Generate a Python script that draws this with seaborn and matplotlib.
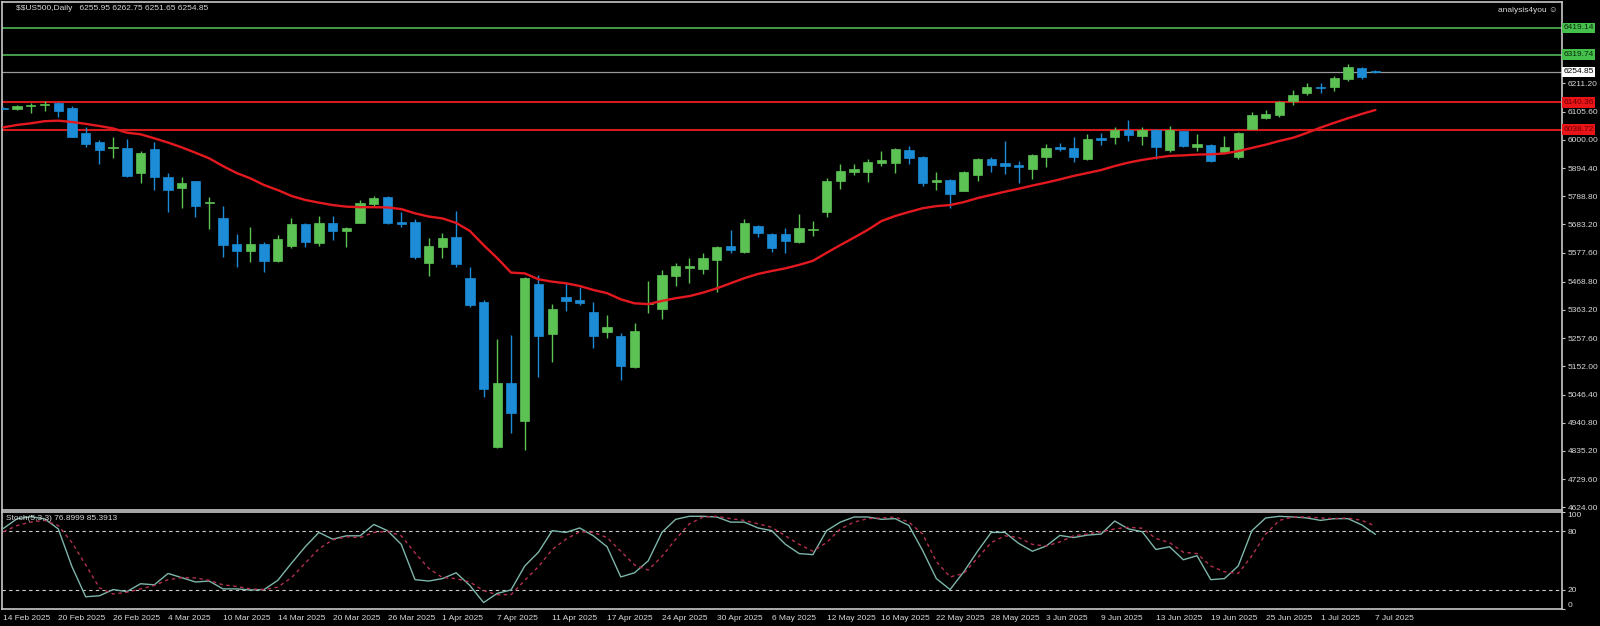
# US500 daily candles with MA and stochastic panel

import numpy as np
import pandas as pd
import matplotlib
matplotlib.use("Agg")
import matplotlib.pyplot as plt
import matplotlib.transforms as mtransforms
import seaborn as sns

# 1. Data, bar index 0 = 14 Feb 2025 ... 100 = 7 Jul 2025
opens = [
    6121, 6114, 6126, 6131, 6139, 6118, 6025, 5992, 5968, 5968,
    5875, 5965, 5860, 5821, 5845, 5764, 5707, 5610, 5585, 5609,
    5546, 5603, 5684, 5615, 5690, 5660, 5690, 5759, 5785, 5694,
    5691, 5540, 5598, 5635, 5484, 5394, 4851, 5091, 4947, 5460,
    5273, 5410, 5400, 5354, 5280, 5267, 5148, 5385, 5366, 5491,
    5520, 5516, 5550, 5603, 5581, 5677, 5647, 5647, 5616, 5664,
    5729, 5847, 5881, 5881, 5912, 5915, 5962, 5937, 5842, 5850,
    5810, 5868, 5927, 5912, 5906, 5892, 5935, 5973, 5969, 5927,
    6006, 6010, 6037, 6014, 6037, 5962, 6033, 5972, 5981, 5954,
    5935, 6042, 6083, 6093, 6146, 6174, 6199, 6197, 6227, 6268,
    6255.95]
highs = [
    6124, 6129, 6137, 6145, 6142, 6127, 6049, 6000, 6010, 6004,
    5958, 5993, 5875, 5860, 5846, 5785, 5752, 5648, 5673, 5619,
    5644, 5706, 5688, 5716, 5715, 5673, 5775, 5790, 5790, 5731,
    5703, 5631, 5650, 5735, 5525, 5400, 5253, 5269, 5488, 5494,
    5385, 5465, 5448, 5394, 5344, 5276, 5313, 5471, 5513, 5538,
    5556, 5575, 5603, 5663, 5703, 5680, 5652, 5669, 5722, 5696,
    5856, 5910, 5909, 5927, 5960, 5969, 5977, 5940, 5881, 5855,
    5882, 5931, 5937, 5997, 5922, 5946, 5984, 5990, 6010, 6021,
    6025, 6047, 6075, 6047, 6040, 6052, 6035, 6021, 5984, 6016,
    6031, 6104, 6111, 6147, 6187, 6214, 6214, 6239, 6283, 6274,
    6262.75]
lows = [
    6114, 6111, 6100, 6109, 6085, 6010, 5974, 5910, 5931, 5860,
    5837, 5812, 5731, 5744, 5710, 5665, 5563, 5525, 5544, 5506,
    5544, 5594, 5598, 5604, 5625, 5600, 5688, 5752, 5685, 5673,
    5555, 5490, 5557, 5525, 5375, 5038, 4845, 4903, 4838, 5111,
    5169, 5359, 5382, 5219, 5257, 5101, 5145, 5350, 5328, 5454,
    5465, 5497, 5431, 5578, 5578, 5635, 5581, 5575, 5612, 5640,
    5713, 5815, 5869, 5843, 5902, 5875, 5909, 5828, 5812, 5744,
    5808, 5847, 5881, 5872, 5840, 5852, 5900, 5960, 5918, 5925,
    5981, 5985, 5997, 5981, 5927, 5956, 5975, 5960, 5918, 5952,
    5927, 6040, 6078, 6087, 6131, 6169, 6177, 6184, 6222, 6227,
    6251.65]
closes = [
    6117, 6126, 6129, 6135, 6109, 6012, 5985, 5962, 5972, 5865,
    5952, 5862, 5812, 5838, 5752, 5768, 5608, 5585, 5609, 5546,
    5628, 5684, 5616, 5690, 5659, 5669, 5763, 5783, 5690, 5685,
    5560, 5603, 5634, 5535, 5381, 5066, 5091, 4976, 5482, 5265,
    5365, 5396, 5390, 5267, 5298, 5153, 5285, 5390, 5494, 5528,
    5526, 5559, 5600, 5588, 5688, 5650, 5594, 5622, 5671, 5668,
    5847, 5883, 5890, 5918, 5925, 5965, 5933, 5837, 5850, 5796,
    5880, 5927, 5905, 5903, 5900, 5942, 5969, 5967, 5935, 6003,
    6000, 6037, 6018, 6037, 5975, 6037, 5978, 5984, 5922, 5975,
    6027, 6092, 6096, 6141, 6168, 6198, 6196, 6231, 6274, 6237,
    6254.85]
ma_values = [
    6047, 6056, 6062, 6070, 6072, 6067, 6060, 6052, 6043, 6027,
    6021, 6006, 5990, 5972, 5952, 5931, 5902, 5876, 5856, 5831,
    5812, 5790, 5775, 5765, 5756, 5750, 5748, 5748, 5747, 5741,
    5725, 5713, 5706, 5689, 5659, 5606, 5557, 5503, 5500, 5478,
    5469, 5463, 5453, 5438, 5426, 5403, 5388, 5385, 5397, 5407,
    5415, 5428, 5444, 5463, 5482, 5498, 5509, 5519, 5532, 5547,
    5577, 5606, 5634, 5663, 5696, 5715, 5730, 5744, 5752, 5756,
    5767, 5782, 5794, 5806, 5817, 5829, 5840, 5852, 5865, 5876,
    5887, 5902, 5915, 5925, 5933, 5940, 5942, 5945, 5946, 5949,
    5958, 5970, 5982, 5996, 6008, 6026, 6046, 6064, 6081, 6097,
    6112]
stoch_k = [
    83, 93, 95, 93, 82.5, 43.6, 12.6, 13.6, 20, 17.9,
    26, 24.9, 36.6, 32.3, 27.8, 28.8, 20.7, 20.7, 19.6, 20,
    29.5, 47.2, 64.1, 78.9, 71.9, 75.4, 75.4, 87.1, 80.7, 66.6,
    30.2, 28.8, 31.3, 37.3, 24.2, 6.6, 16.1, 19.6, 44.3, 58.5,
    80.7, 78.9, 83.5, 75.4, 64.1, 33, 37.3, 49.6, 78.9, 92.4,
    95.5, 95.5, 94.8, 89.5, 89.5, 83.5, 80.7, 66.6, 57.1, 56,
    80.7, 89.5, 94.8, 94.8, 92.4, 93.1, 86, 60.2, 31.3, 20,
    38.3, 59.5, 78.9, 78.9, 67.6, 59.5, 64.8, 75.8, 73.6, 76.1,
    77.2, 90.6, 82.5, 79.6, 61.3, 64.1, 50.7, 54.9, 30.2, 31.3,
    44.3, 80.7, 93.8, 95.5, 94.8, 93.8, 91.3, 93.1, 93.1, 86.7,
    76.9]
stoch_d = [
    79.6, 86, 89.5, 91.3, 86, 68.4, 45.4, 21.8, 15.4, 17.2,
    20.7, 24.2, 30.2, 32.3, 32, 29.5, 24.9, 23.2, 20.7, 20,
    22.5, 32.3, 47.2, 62, 71.2, 74.4, 73.6, 78.9, 80, 75.4,
    57.8, 41.9, 32.3, 31.3, 27.8, 18.9, 14.7, 14.7, 29.5, 43.6,
    61.3, 71.9, 79.6, 78.9, 73.6, 59.5, 45.4, 40.1, 54.2, 71.9,
    87.8, 94.8, 95.5, 93.1, 91.3, 87.8, 84.2, 75.4, 66.6, 59.5,
    68.4, 82.5, 89.5, 93.1, 93.8, 94.8, 89.5, 77.2, 48.9, 33,
    36.6, 52.5, 68.4, 75.4, 73.6, 66.6, 64.8, 69.1, 75.4, 77.2,
    79.6, 82.5, 84.2, 83.2, 72.6, 68.4, 58.5, 57.1, 44.3, 38.3,
    36.6, 54.9, 77.2, 91.3, 94.8, 94.8, 93.8, 93.1, 93.8, 91.3,
    85.4]
date_labels = [
    "14 Feb 2025", "20 Feb 2025", "26 Feb 2025", "4 Mar 2025", "10 Mar 2025",
    "14 Mar 2025", "20 Mar 2025", "26 Mar 2025", "1 Apr 2025", "7 Apr 2025",
    "11 Apr 2025", "17 Apr 2025", "24 Apr 2025", "30 Apr 2025", "6 May 2025",
    "12 May 2025", "16 May 2025", "22 May 2025", "28 May 2025", "3 Jun 2025",
    "9 Jun 2025", "13 Jun 2025", "19 Jun 2025", "25 Jun 2025", "1 Jul 2025",
    "7 Jul 2025"]
price_ticks = [6211.20, 6105.60, 6000.00, 5894.40, 5788.80, 5683.20, 5577.60,
               5468.80, 5363.20, 5257.60, 5152.00, 5046.40, 4940.80, 4835.20,
               4729.60, 4624.00]
green_levels = [6419.14, 6319.74]
red_levels = [6140.36, 6038.72]
last_price = 6254.85

df = pd.DataFrame({"bar": np.arange(len(closes)), "open": opens, "high": highs,
                   "low": lows, "close": closes, "ma": ma_values,
                   "k": stoch_k, "d": stoch_d})

# 2. Style
sns.set_style("dark")
plt.rcParams['font.family'] = ['Liberation Sans', 'DejaVu Sans']
fg = '#d8d8d8'
bull = '#5cc253'
bear = '#1c8cd6'

fig = plt.figure(figsize=(16, 6.26), dpi=100, facecolor='black')
ax = fig.add_axes([0.00125, 0.1861, 0.975, 0.8107])
ax2 = fig.add_axes([0.00125, 0.0272, 0.975, 0.155], sharex=ax)
for a in (ax, ax2):
    a.set_facecolor('black')
    a.grid(False)
    for s in a.spines.values():
        s.set_color('#c8c8c8')
        s.set_linewidth(1.2)

# 3. Candles
up = df["close"] >= df["open"]
colors = np.where(up, bull, bear)
ax.vlines(df["bar"], df["low"], df["high"], colors=colors, lw=1.0, zorder=3)
body = (df["close"] - df["open"]).abs().clip(lower=1.5)
ax.bar(df["bar"], body, bottom=df[["open", "close"]].min(axis=1), width=0.68,
       color=colors, edgecolor=colors, lw=0.5, zorder=4)

# moving average
sns.lineplot(data=df, x="bar", y="ma", ax=ax, color='#e3191f', lw=1.7, zorder=5)

# level lines
trans = mtransforms.blended_transform_factory(ax.transAxes, ax.transData)
for lv in green_levels:
    ax.axhline(lv, color='#4aa84e', lw=1.3, zorder=2)
    ax.text(1.0008, lv, f"{lv:.2f}", transform=trans, ha='left', va='center',
            fontsize=6, color='#0b2a0b', clip_on=False,
            bbox=dict(boxstyle='square,pad=0.2', fc='#45c04c', ec='none'))
for lv in red_levels:
    ax.axhline(lv, color='#d41a1a', lw=1.5, zorder=2)
    ax.text(1.0008, lv, f"{lv:.2f}", transform=trans, ha='left', va='center',
            fontsize=6, color='#6a0000', clip_on=False,
            bbox=dict(boxstyle='square,pad=0.2', fc='#e81418', ec='none'))
ax.axhline(last_price, color='#9a9a9a', lw=0.9, zorder=2)
ax.text(1.0008, last_price, f"{last_price:.2f}", transform=trans, ha='left',
        va='center', fontsize=6, color='black', clip_on=False,
        bbox=dict(boxstyle='square,pad=0.2', fc='white', ec='none'))

ax.set_ylim(4615.8, 6516.4)
ax.set_xlim(-0.1, 113.6)
ax.yaxis.tick_right()
ax.set_yticks(price_ticks)
ax.set_yticklabels([f"{p:.2f}" for p in price_ticks])
ax.tick_params(axis='y', colors='#c8c8c8', labelcolor=fg, labelsize=6,
               length=2.5, width=0.8, pad=1.5)
ax.tick_params(axis='x', bottom=False, labelbottom=False)
ax.set_xlabel("")
ax.set_ylabel("")

# 4. Stochastic
for lv in (80, 20):
    ax2.axhline(lv, color='#cfcfcf', lw=0.8, ls=(0, (3, 3)))
sns.lineplot(data=df, x="bar", y="k", ax=ax2, color='#7db5aa', lw=1.0)
sns.lineplot(data=df, x="bar", y="d", ax=ax2, color='#b3304e', lw=1.0,
             linestyle=(0, (2.5, 2.5)))
ax2.set_ylim(0, 100)
ax2.yaxis.tick_right()
ax2.set_yticks([100, 80, 20, 0])
ax2.set_yticklabels(["100", "80", "20", "0"])
ax2.tick_params(axis='y', colors='#c8c8c8', labelcolor=fg, labelsize=6,
                length=2.5, width=0.8, pad=1.5)
ylabs = ax2.get_yticklabels()
ylabs[0].set_va('top')
ylabs[3].set_va('bottom')
ax2.set_xticks(df["bar"][::4])
ax2.set_xticklabels(date_labels)
ax2.tick_params(axis='x', colors='#c8c8c8', labelcolor=fg, labelsize=6,
                length=3, width=0.8, pad=1.5)
for lbl in ax2.get_xticklabels():
    lbl.set_ha('left')
ax2.set_xlabel("")
ax2.set_ylabel("")
ax2.text(0.0025, 0.935, "Stoch(5,3,3) 76.8999 85.3913", transform=ax2.transAxes,
         ha='left', va='center', fontsize=6, color=fg)

# 5. Header texts
fig.text(16 / 1600, 1 - 9 / 626, "$$US500,Daily   6255.95 6262.75 6251.65 6254.85",
         color=fg, fontsize=6, va='center', ha='left', parse_math=False)
fig.text(1557 / 1600, 1 - 10 / 626, "analysis4you \u263a", color=fg, fontsize=6,
         va='center', ha='right')

fig.savefig("out.png", dpi=100, facecolor='black')
